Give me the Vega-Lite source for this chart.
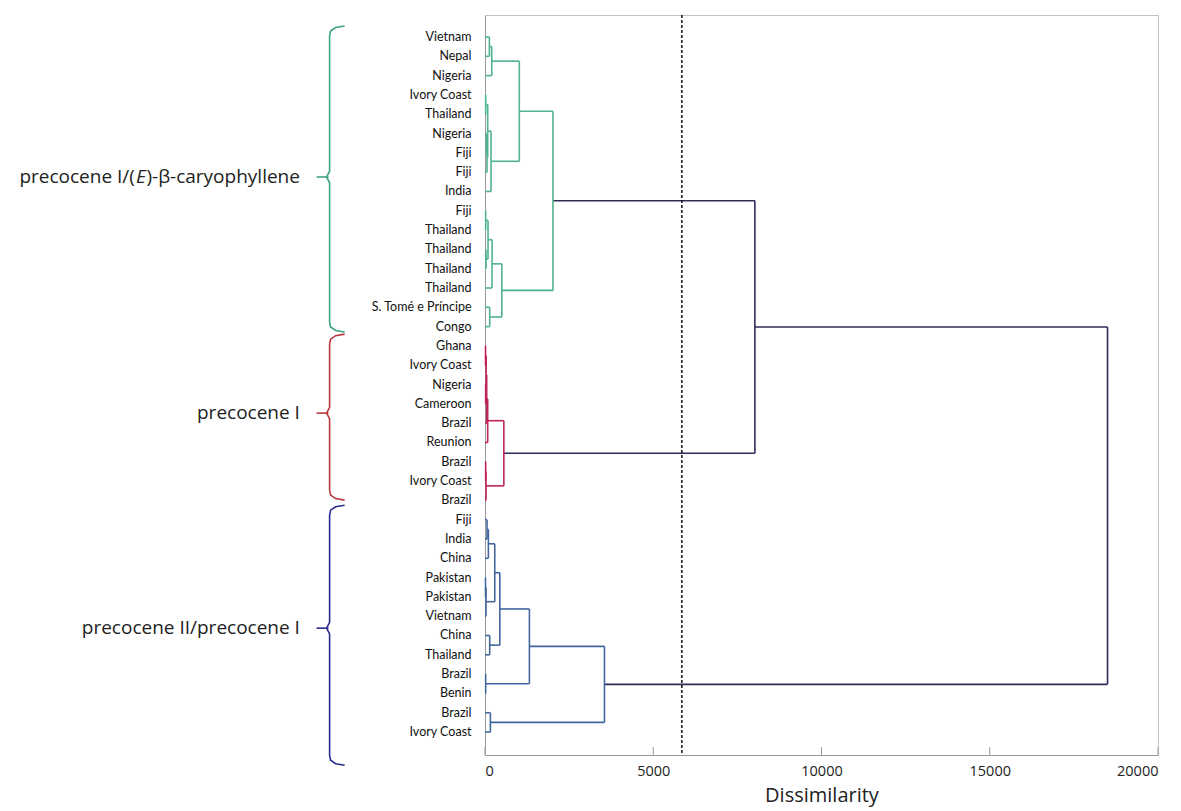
{
  "$schema": "https://vega.github.io/schema/vega-lite/v6.json",
  "width": 673,
  "height": 740,
  "autosize": "none",
  "padding": {"left": 485, "top": 15, "right": 23, "bottom": 56},
  "background": "white",
  "config": {
    "view": {"stroke": "#c4c4c4", "strokeWidth": 1},
    "font": "Open Sans"
  },
  "datasets": {
    "merges": [
      {"h": 130, "xa": 0, "ya": 1, "xb": 0, "yb": 2, "c": "g"},
      {"h": 200, "xa": 130, "ya": 1.5, "xb": 0, "yb": 3, "c": "g"},
      {"h": 20, "xa": 0, "ya": 4, "xb": 0, "yb": 5, "c": "g"},
      {"h": 40, "xa": 0, "ya": 6, "xb": 0, "yb": 7, "c": "g"},
      {"h": 60, "xa": 40, "ya": 6.5, "xb": 0, "yb": 8, "c": "g"},
      {"h": 80, "xa": 20, "ya": 4.5, "xb": 60, "yb": 7.25, "c": "g"},
      {"h": 180, "xa": 80, "ya": 5.875, "xb": 0, "yb": 9, "c": "g"},
      {"h": 1020, "xa": 200, "ya": 2.25, "xb": 180, "yb": 7.4375, "c": "g"},
      {"h": 20, "xa": 0, "ya": 10, "xb": 0, "yb": 11, "c": "g"},
      {"h": 30, "xa": 0, "ya": 12, "xb": 0, "yb": 13, "c": "g"},
      {"h": 90, "xa": 20, "ya": 10.5, "xb": 30, "yb": 12.5, "c": "g"},
      {"h": 210, "xa": 90, "ya": 11.5, "xb": 0, "yb": 14, "c": "g"},
      {"h": 140, "xa": 0, "ya": 15, "xb": 0, "yb": 16, "c": "g"},
      {"h": 500, "xa": 210, "ya": 12.75, "xb": 140, "yb": 15.5, "c": "g"},
      {"h": 2020, "xa": 1020, "ya": 4.84375, "xb": 500, "yb": 14.125, "c": "g"},
      {"h": 15, "xa": 0, "ya": 17, "xb": 0, "yb": 18, "c": "r"},
      {"h": 20, "xa": 0, "ya": 19, "xb": 0, "yb": 20, "c": "r"},
      {"h": 35, "xa": 15, "ya": 17.5, "xb": 20, "yb": 19.5, "c": "r"},
      {"h": 50, "xa": 35, "ya": 18.5, "xb": 0, "yb": 21, "c": "r"},
      {"h": 80, "xa": 50, "ya": 19.75, "xb": 0, "yb": 22, "c": "r"},
      {"h": 20, "xa": 0, "ya": 23, "xb": 0, "yb": 24, "c": "r"},
      {"h": 30, "xa": 20, "ya": 23.5, "xb": 0, "yb": 25, "c": "r"},
      {"h": 560, "xa": 80, "ya": 20.875, "xb": 30, "yb": 24.25, "c": "r"},
      {"h": 60, "xa": 0, "ya": 26, "xb": 0, "yb": 27, "c": "b"},
      {"h": 100, "xa": 60, "ya": 26.5, "xb": 0, "yb": 28, "c": "b"},
      {"h": 15, "xa": 0, "ya": 29, "xb": 0, "yb": 30, "c": "b"},
      {"h": 30, "xa": 15, "ya": 29.5, "xb": 0, "yb": 31, "c": "b"},
      {"h": 290, "xa": 100, "ya": 27.25, "xb": 30, "yb": 30.25, "c": "b"},
      {"h": 140, "xa": 0, "ya": 32, "xb": 0, "yb": 33, "c": "b"},
      {"h": 440, "xa": 290, "ya": 28.75, "xb": 140, "yb": 32.5, "c": "b"},
      {"h": 20, "xa": 0, "ya": 34, "xb": 0, "yb": 35, "c": "b"},
      {"h": 1320, "xa": 440, "ya": 30.625, "xb": 20, "yb": 34.5, "c": "b"},
      {"h": 160, "xa": 0, "ya": 36, "xb": 0, "yb": 37, "c": "b"},
      {"h": 3550, "xa": 1320, "ya": 32.5625, "xb": 160, "yb": 36.5, "c": "b"},
      {"h": 8020, "xa": 2020, "ya": 9.484375, "xb": 560, "yb": 22.5625, "c": "k"},
      {"h": 18500, "xa": 8020, "ya": 16.0234, "xb": 3550, "yb": 34.53125, "c": "k"}
    ],
    "leaves": [
      {"row": 1, "name": "Vietnam"},
      {"row": 2, "name": "Nepal"},
      {"row": 3, "name": "Nigeria"},
      {"row": 4, "name": "Ivory Coast"},
      {"row": 5, "name": "Thailand"},
      {"row": 6, "name": "Nigeria"},
      {"row": 7, "name": "Fiji"},
      {"row": 8, "name": "Fiji"},
      {"row": 9, "name": "India"},
      {"row": 10, "name": "Fiji"},
      {"row": 11, "name": "Thailand"},
      {"row": 12, "name": "Thailand"},
      {"row": 13, "name": "Thailand"},
      {"row": 14, "name": "Thailand"},
      {"row": 15, "name": "S. Tomé e Príncipe"},
      {"row": 16, "name": "Congo"},
      {"row": 17, "name": "Ghana"},
      {"row": 18, "name": "Ivory Coast"},
      {"row": 19, "name": "Nigeria"},
      {"row": 20, "name": "Cameroon"},
      {"row": 21, "name": "Brazil"},
      {"row": 22, "name": "Reunion"},
      {"row": 23, "name": "Brazil"},
      {"row": 24, "name": "Ivory Coast"},
      {"row": 25, "name": "Brazil"},
      {"row": 26, "name": "Fiji"},
      {"row": 27, "name": "India"},
      {"row": 28, "name": "China"},
      {"row": 29, "name": "Pakistan"},
      {"row": 30, "name": "Pakistan"},
      {"row": 31, "name": "Vietnam"},
      {"row": 32, "name": "China"},
      {"row": 33, "name": "Thailand"},
      {"row": 34, "name": "Brazil"},
      {"row": 35, "name": "Benin"},
      {"row": 36, "name": "Brazil"},
      {"row": 37, "name": "Ivory Coast"}
    ],
    "braces": [
      {"b": "bg", "o": 1, "x": -4171, "row": 0.43},
      {"b": "bg", "o": 2, "x": -4439, "row": 0.51},
      {"b": "bg", "o": 3, "x": -4588, "row": 0.69},
      {"b": "bg", "o": 4, "x": -4618, "row": 0.95},
      {"b": "bg", "o": 5, "x": -4618, "row": 7.95},
      {"b": "bg", "o": 6, "x": -4706, "row": 8.25},
      {"b": "bg", "o": 7, "x": -4618, "row": 8.55},
      {"b": "bg", "o": 8, "x": -4618, "row": 15.76},
      {"b": "bg", "o": 9, "x": -4588, "row": 16.02},
      {"b": "bg", "o": 10, "x": -4439, "row": 16.2},
      {"b": "bg", "o": 11, "x": -4171, "row": 16.28},
      {"b": "br", "o": 1, "x": -4171, "row": 16.39},
      {"b": "br", "o": 2, "x": -4439, "row": 16.47},
      {"b": "br", "o": 3, "x": -4588, "row": 16.65},
      {"b": "br", "o": 4, "x": -4618, "row": 16.91},
      {"b": "br", "o": 5, "x": -4618, "row": 20.18},
      {"b": "br", "o": 6, "x": -4706, "row": 20.48},
      {"b": "br", "o": 7, "x": -4618, "row": 20.78},
      {"b": "br", "o": 8, "x": -4618, "row": 24.47},
      {"b": "br", "o": 9, "x": -4588, "row": 24.73},
      {"b": "br", "o": 10, "x": -4439, "row": 24.91},
      {"b": "br", "o": 11, "x": -4171, "row": 24.99},
      {"b": "bb", "o": 1, "x": -4171, "row": 25.25},
      {"b": "bb", "o": 2, "x": -4439, "row": 25.33},
      {"b": "bb", "o": 3, "x": -4588, "row": 25.51},
      {"b": "bb", "o": 4, "x": -4618, "row": 25.77},
      {"b": "bb", "o": 5, "x": -4618, "row": 31.32},
      {"b": "bb", "o": 6, "x": -4706, "row": 31.62},
      {"b": "bb", "o": 7, "x": -4618, "row": 31.92},
      {"b": "bb", "o": 8, "x": -4618, "row": 38.2},
      {"b": "bb", "o": 9, "x": -4588, "row": 38.46},
      {"b": "bb", "o": 10, "x": -4439, "row": 38.64},
      {"b": "bb", "o": 11, "x": -4171, "row": 38.72}
    ],
    "groups": [
      {"b": "bg", "row": 8.25, "label": ")-β-caryophyllene", "it": "E", "pre": "precocene I/("},
      {"b": "br", "row": 20.48, "label": "precocene I", "it": "", "pre": ""},
      {"b": "bb", "row": 31.62, "label": "precocene II/precocene I", "it": "", "pre": ""}
    ],
    "ticks": [
      {"t": 0}, {"t": 5000}, {"t": 10000}, {"t": 15000}, {"t": 20000}
    ]
  },
  "layer": [
    {
      "data": {"name": "merges"},
      "mark": {"type": "rule", "strokeWidth": 1.6},
      "encoding": {
        "x": {"field": "xa", "type": "quantitative", "scale": {"domain": [0, 20000], "nice": false, "zero": false},
              "axis": {"values": [0, 5000, 10000, 15000, 20000], "format": "d", "title": "Dissimilarity", "grid": false,
                       "ticks": false, "labelPadding": 9, "domainColor": "#999",
                       "labelFontSize": 14.5, "labelColor": "#222", "titleFontSize": 20, "titleFontWeight": "normal",
                       "titleColor": "#222", "titlePadding": 8, "labelFont": "Open Sans", "titleFont": "Open Sans"}},
        "x2": {"field": "h"},
        "y": {"field": "ya", "type": "quantitative", "scale": {"domain": [-0.14, 38.19], "reverse": true, "nice": false, "zero": false},
              "axis": {"labels": false, "ticks": false, "title": null, "grid": false, "domainColor": "#999"}},
        "color": {"field": "c", "type": "nominal", "legend": null,
                  "scale": {"domain": ["g", "r", "b", "k", "bg", "br", "bb"],
                            "range": ["#4fb38d", "#bf2458", "#42679e", "#2d2d5a", "#3ea57c", "#b8383e", "#2c2c8c"]}}
      }
    },
    {
      "data": {"name": "merges"},
      "mark": {"type": "rule", "strokeWidth": 1.6},
      "encoding": {
        "x": {"field": "xb", "type": "quantitative", "scale": {"domain": [0, 20000]}},
        "x2": {"field": "h"},
        "y": {"field": "yb", "type": "quantitative"},
        "color": {"field": "c", "type": "nominal", "legend": null}
      }
    },
    {
      "data": {"name": "merges"},
      "mark": {"type": "rule", "strokeWidth": 1.6},
      "encoding": {
        "x": {"field": "h", "type": "quantitative", "scale": {"domain": [0, 20000]}},
        "y": {"field": "ya", "type": "quantitative"},
        "y2": {"field": "yb"},
        "color": {"field": "c", "type": "nominal", "legend": null}
      }
    },
    {
      "data": {"name": "ticks"},
      "mark": {"type": "rule", "strokeWidth": 1, "color": "#999"},
      "encoding": {
        "x": {"field": "t", "type": "quantitative", "scale": {"domain": [0, 20000]}},
        "y": {"datum": 37.78, "type": "quantitative"},
        "y2": {"datum": 38.19}
      }
    },
    {
      "data": {"values": [{"v": 5850}]},
      "mark": {"type": "rule", "strokeDash": [3, 2], "strokeWidth": 1.5, "color": "#111"},
      "encoding": {"x": {"field": "v", "type": "quantitative", "scale": {"domain": [0, 20000]}}}
    },
    {
      "data": {"name": "leaves"},
      "mark": {"type": "text", "align": "right", "baseline": "middle", "fontSize": 12.5, "font": "Lato", "color": "#111"},
      "encoding": {
        "x": {"datum": -400, "type": "quantitative", "scale": {"domain": [0, 20000]}},
        "y": {"field": "row", "type": "quantitative"},
        "text": {"field": "name"}
      }
    },
    {
      "data": {"name": "braces"},
      "mark": {"type": "line", "strokeWidth": 1.6},
      "encoding": {
        "x": {"field": "x", "type": "quantitative", "scale": {"domain": [0, 20000]}},
        "y": {"field": "row", "type": "quantitative"},
        "order": {"field": "o", "type": "quantitative"},
        "detail": {"field": "b"},
        "color": {"field": "b", "type": "nominal", "legend": null}
      }
    },
    {
      "data": {"name": "groups"},
      "mark": {"type": "rule", "strokeWidth": 1.6},
      "encoding": {
        "x": {"datum": -5004, "type": "quantitative", "scale": {"domain": [0, 20000]}},
        "x2": {"datum": -4650},
        "y": {"field": "row", "type": "quantitative"},
        "color": {"field": "b", "type": "nominal", "legend": null}
      }
    },
    {
      "data": {"name": "groups"},
      "mark": {"type": "text", "align": "right", "baseline": "middle", "fontSize": 19, "font": "Open Sans", "color": "#222"},
      "encoding": {
        "x": {"datum": -5500, "type": "quantitative", "scale": {"domain": [0, 20000]}},
        "y": {"field": "row", "type": "quantitative"},
        "text": {"field": "label"}
      }
    },
    {
      "data": {"name": "groups"},
      "mark": {"type": "text", "align": "right", "baseline": "middle", "fontSize": 19, "fontStyle": "italic", "font": "Open Sans", "color": "#222", "dx": -154},
      "encoding": {
        "x": {"datum": -5500, "type": "quantitative", "scale": {"domain": [0, 20000]}},
        "y": {"field": "row", "type": "quantitative"},
        "text": {"field": "it"}
      }
    },
    {
      "data": {"name": "groups"},
      "mark": {"type": "text", "align": "right", "baseline": "middle", "fontSize": 19, "font": "Open Sans", "color": "#222", "dx": -165},
      "encoding": {
        "x": {"datum": -5500, "type": "quantitative", "scale": {"domain": [0, 20000]}},
        "y": {"field": "row", "type": "quantitative"},
        "text": {"field": "pre"}
      }
    }
  ]
}
